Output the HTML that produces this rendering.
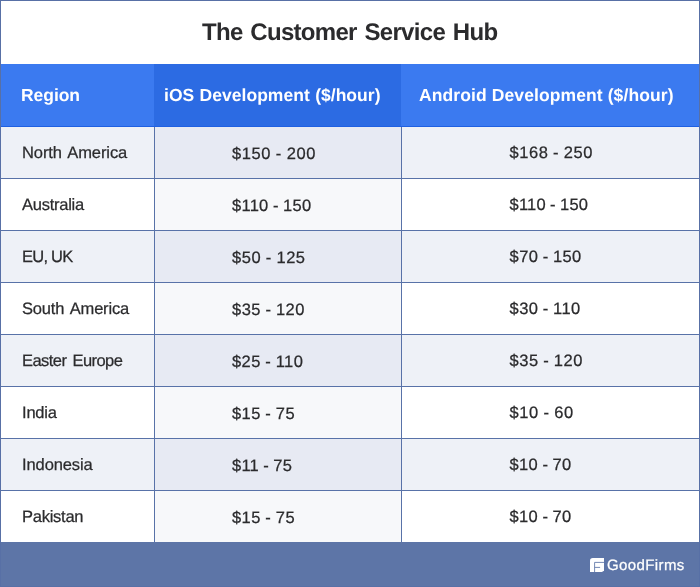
<!DOCTYPE html>
<html lang="en"><head><meta charset="utf-8"><title>The Customer Service Hub</title>
<style>
html,body{margin:0;padding:0;}
body{width:700px;height:587px;overflow:hidden;background:#fff;font-family:"Liberation Sans",sans-serif;position:relative;text-rendering:geometricPrecision;}
.frame{position:absolute;left:0;top:0;width:698px;height:585px;border:1px solid #5870a6;z-index:5;pointer-events:none;}
.title{transform:translateY(0.3px);position:absolute;left:202px;top:18px;white-space:nowrap;font-weight:bold;font-size:24px;line-height:30px;letter-spacing:-0.7px;word-spacing:1.8px;color:#2b2b2d;}
.hdr{position:absolute;z-index:2;top:64px;height:63px;color:#fff;font-weight:bold;font-size:17.5px;}
.hdr span{position:absolute;top:19px;line-height:24px;white-space:nowrap;}
.hdr:after{content:"";position:absolute;left:0;right:0;bottom:0;height:1px;background:#1f60e2;}
.h1{left:0;width:154px;background:#3b7af0;}
.h2{left:154px;width:247px;background:#2c6be3;}
.h3{left:401px;width:299px;background:#3b7af0;}
.row{-webkit-text-stroke:0.25px #2b2b2d;position:absolute;left:0;width:700px;height:52px;font-size:16.5px;color:#2b2b2d;}
.row div{position:absolute;top:0;height:52px;}
.row span{position:absolute;white-space:nowrap;line-height:24px;}
.c1{left:0;width:154px;}
.c1 span{left:22px;top:15px;}
.c2{left:154px;width:247px;}
.c2 span{left:78px;top:16px;}
.c3{left:401px;width:299px;}
.c3 span{left:108.6px;top:15px;}
.odd .c1,.odd .c3{background:#eef1f7;}
.odd .c2{background:#e7eaf3;}
.even .c2{background:#f7f8fa;}
.hl{position:absolute;left:0;width:700px;height:1px;background:#5872a8;}
.vl{position:absolute;top:127px;height:415px;width:1px;background:#5872a8;}
.foot{position:absolute;left:0;top:542px;width:700px;height:45px;background:#5d75a7;}
.brand{-webkit-text-stroke:0.25px #fff;position:absolute;left:607px;top:14px;color:#fff;font-size:15px;line-height:20px;letter-spacing:0.39px;white-space:nowrap;}
</style></head><body>
<div class="title">The Customer Service Hub</div>
<div class="hdr h1"><span style="left:21px;letter-spacing:-0.05px">Region</span></div>
<div class="hdr h2"><span style="left:10px;letter-spacing:0.03px;word-spacing:0.45px">iOS Development ($/hour)</span></div>
<div class="hdr h3"><span style="left:18px;letter-spacing:0.10px">Android Development ($/hour)</span></div>
<div class="row odd" style="top:126px"><div class="c1"><span style="letter-spacing:-0.10px;word-spacing:1.90px">North America</span></div><div class="c2"><span style="letter-spacing:0.61px;word-spacing:-0.50px">$150 - 200</span></div><div class="c3"><span style="letter-spacing:0.54px;word-spacing:-0.50px">$168 - 250</span></div></div>
<div class="row even" style="top:178px"><div class="c1"><span style="letter-spacing:-0.26px">Australia</span></div><div class="c2"><span style="letter-spacing:0.27px;word-spacing:-0.50px">$110 - 150</span></div><div class="c3"><span style="letter-spacing:0.19px;word-spacing:-0.50px">$110 - 150</span></div></div>
<div class="row odd" style="top:230px"><div class="c1"><span style="letter-spacing:-0.70px;word-spacing:-0.30px">EU, UK</span></div><div class="c2"><span style="letter-spacing:0.54px;word-spacing:-0.50px">$50 - 125</span></div><div class="c3"><span style="letter-spacing:0.36px;word-spacing:-0.50px">$70 - 150</span></div></div>
<div class="row even" style="top:282px"><div class="c1"><span style="letter-spacing:-0.20px;word-spacing:2.20px">South America</span></div><div class="c2"><span style="letter-spacing:0.45px;word-spacing:-0.50px">$35 - 120</span></div><div class="c3"><span style="letter-spacing:0.38px;word-spacing:-0.50px">$30 - 110</span></div></div>
<div class="row odd" style="top:334px"><div class="c1"><span style="letter-spacing:-0.55px;word-spacing:2.00px">Easter Europe</span></div><div class="c2"><span style="letter-spacing:0.42px;word-spacing:-0.50px">$25 - 110</span></div><div class="c3"><span style="letter-spacing:0.50px;word-spacing:-0.50px">$35 - 120</span></div></div>
<div class="row even" style="top:386px"><div class="c1"><span style="letter-spacing:-0.20px">India</span></div><div class="c2"><span style="letter-spacing:0.44px;word-spacing:-0.50px">$15 - 75</span></div><div class="c3"><span style="letter-spacing:0.56px;word-spacing:-0.50px">$10 - 60</span></div></div>
<div class="row odd" style="top:438px"><div class="c1"><span style="letter-spacing:-0.10px">Indonesia</span></div><div class="c2"><span style="letter-spacing:0.22px;word-spacing:-0.50px">$11 - 75</span></div><div class="c3"><span style="letter-spacing:0.30px;word-spacing:-0.50px">$10 - 70</span></div></div>
<div class="row even" style="top:490px"><div class="c1"><span style="letter-spacing:-0.25px">Pakistan</span></div><div class="c2"><span style="letter-spacing:0.44px;word-spacing:-0.50px">$15 - 75</span></div><div class="c3"><span style="letter-spacing:0.30px;word-spacing:-0.50px">$10 - 70</span></div></div>
<div class="hl" style="top:178px"></div>
<div class="hl" style="top:230px"></div>
<div class="hl" style="top:282px"></div>
<div class="hl" style="top:334px"></div>
<div class="hl" style="top:386px"></div>
<div class="hl" style="top:438px"></div>
<div class="hl" style="top:490px"></div>
<div class="vl" style="left:154px"></div>
<div class="vl" style="left:401px"></div>
<div class="foot">
<svg style="position:absolute;left:589.9px;top:15.9px" width="14.3" height="14.1" viewBox="0 0 14.3 14.1"><path d="M2.8 0H14.3V10.6Q14.3 14.1 10.8 14.1H0V2.8Q0 0 2.8 0Z" fill="#fff"/><path d="M4.6 14.1V4.4H14.3M4.6 9.4H10.1" fill="none" stroke="#5b74a6" stroke-width="0.85"/></svg>
<div class="brand">GoodFirms</div>
</div>
<div class="frame"></div>
</body></html>
